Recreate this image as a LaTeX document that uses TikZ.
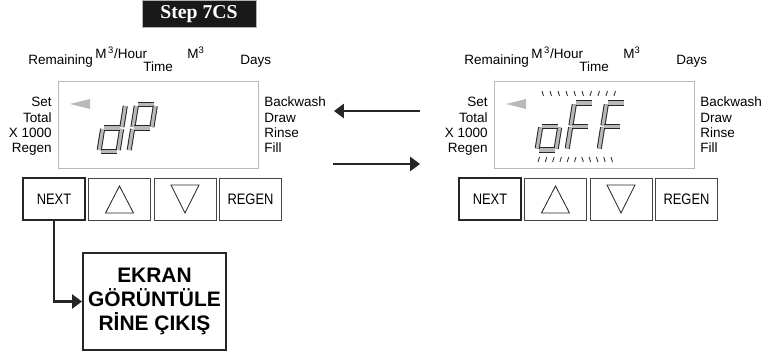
\documentclass[tikz,border=0pt]{standalone}
\usepackage{fontspec}
\setmainfont{Liberation Sans}
\newfontfamily\stepfont{Liberation Serif}
\newfontfamily\btnfont[FakeStretch=0.85]{Liberation Sans}
\usetikzlibrary{positioning, arrows.meta}

% seven-segment digit: x, y of lower left corner, list of segments
\newcommand\lcddigit[3]{%
  \begin{scope}[shift={(#1,#2)}, xslant=0.16]
    \foreach \xa/\ya/\xb/\yb in {#3}
      \draw[seg] (\xa,\ya) -- (\xb,\yb);
  \end{scope}}

\begin{document}
\begin{tikzpicture}[x=0.025cm, y=-0.025cm,
      lbl/.style={font=\fontsize{9.6}{11}\selectfont, inner sep=0pt},
      lcd/.style={rectangle, draw=gray!55, line width=0.7pt,
        minimum width=4.975cm, minimum height=2.15cm},
      btn/.style={rectangle, draw=gray!55!black, line width=0.6pt,
        minimum width=1.55cm, minimum height=1.05cm,
      font=\btnfont\fontsize{10.8}{12}\selectfont},
      nextbtn/.style={btn, draw=black!85, line width=1.3pt},
      seg/.style={draw=gray!30!black, double=gray!55, double distance=2.2pt,
        line width=0.7pt},
      tick/.style={draw=gray!35!black, line width=0.6pt},
      flow/.style={-{Triangle[length=7pt, width=10pt]}, draw=black!85,
        line width=1.5pt}
    ]
    \useasboundingbox (0,0) rectangle (768,353);
    % === Title ===
    \node[fill=black!90, draw=gray!60, text=white, minimum width=2.85cm,
      minimum height=0.6cm, font=\stepfont\bfseries\fontsize{14}{16}\selectfont]
      (title) at (199,14) {Step 7CS};
    % === Two control panels ===
    \foreach \p/\dx in {L/0, R/436} {
      \begin{scope}[shift={(\dx,0)}]
        % labels above the display
        \node[lbl, anchor=base west] (\p-rem) at (28,65) {Remaining};
        \node[lbl, anchor=base west] (\p-flow) at (95,59)
          {M\textsuperscript{\,3}/Hour};
        \node[lbl, anchor=base west] (\p-time) at (143,72) {Time};
        \node[lbl, anchor=base west] (\p-vol) at (187,59)
          {M\textsuperscript{3}};
        \node[lbl, anchor=base west] (\p-days) at (240,65) {Days};
        % display window
        \node[lcd] (\p-lcd) at (158.5,125) {};
        \fill[gray!55] (70,104) -- (90,99) -- (90,109) -- cycle;
        % labels left and right of the display
        \foreach \t [count=\i] in {Set, Total, X 1000, Regen}
          \node[lbl, anchor=base east] (\p-cnt\i) at (52,91.7+15.3*\i) {\t};
        \foreach \t [count=\i] in {Backwash, Draw, Rinse, Fill}
          \node[lbl, anchor=base west] (\p-mode\i) at (264,91.7+15.3*\i) {\t};
        % buttons
        \node[nextbtn] (\p-next) at (54,199) {NEXT};
        \node[btn] (\p-up) at (119.5,199) {};
        \node[btn] (\p-down) at (185,199) {};
        \node[btn] (\p-regen) at (250.5,199) {REGEN};
        \draw[gray!30!black, line width=0.6pt] ([shift={(-14,14)}]\p-up.center)
          -- ([shift={(14,14)}]\p-up.center) -- ([shift={(0,-13)}]\p-up.center)
          -- cycle;
        \draw[gray!30!black, line width=0.6pt] ([shift={(-14,-14)}]\p-down.center)
          -- ([shift={(14,-14)}]\p-down.center) -- ([shift={(0,14)}]\p-down.center)
          -- cycle;
      \end{scope}
    }
    % === Digits: dP ===
    \lcddigit{99}{151.5}{19/-45.5/19/-24.5, 19/-22.5/19/-1.5, 1.5/0/17.5/0,
      0/-1.5/0/-22.5, 1.5/-23.5/17.5/-23.5}
    \lcddigit{129}{151.5}{1.5/-47/17.5/-47, 19/-45.5/19/-24.5, 0/-24.5/0/-45.5,
      0/-1.5/0/-22.5, 1.5/-23.5/17.5/-23.5}
    % === Digits: oFF (blinking) ===
    \lcddigit{537}{150}{19/-22.5/19/-1.5, 1.5/0/17.5/0, 0/-1.5/0/-22.5,
      1.5/-23.5/17.5/-23.5}
    \lcddigit{567}{150}{1.5/-47/17.5/-47, 0/-24.5/0/-45.5, 0/-1.5/0/-22.5,
      1.5/-23.5/17.5/-23.5}
    \lcddigit{599}{150}{1.5/-47/17.5/-47, 0/-24.5/0/-45.5, 0/-1.5/0/-22.5,
      1.5/-23.5/17.5/-23.5}
    \foreach \i in {0,...,5}
      \draw[tick] (542+8*\i,91) -- (543.5+8*\i,96);
    \foreach \i in {6,...,9}
      \draw[tick] (543.5+8*\i,91) -- (542+8*\i,96);
    \foreach \i in {0,...,5}
      \draw[tick] (539.5+7.3*\i,157) -- (538+7.3*\i,162);
    \foreach \i in {6,...,10}
      \draw[tick] (538+7.3*\i,157) -- (539.5+7.3*\i,162);
    % === Arrows between the panels ===
    \coordinate (back-from) at (420,111);
    \coordinate (back-to) at (334,111);
    \coordinate (fwd-from) at (333,164);
    \coordinate (fwd-to) at (420,164);
    \draw[flow] (back-from) -- (back-to);
    \draw[flow] (fwd-from) -- (fwd-to);
    % === Exit box ===
    \node[draw=black!85, line width=1.5pt, minimum width=3.575cm,
      minimum height=2.425cm, align=center,
      font=\bfseries\fontsize{14.9}{17.2}\selectfont] (exit) at (154.5,301.5)
      {EKRAN\\GÖRÜNTÜLE\\RİNE ÇIKIŞ};
    \draw[flow] (L-next.south) |- (exit.west);
  \end{tikzpicture}
\end{document}
